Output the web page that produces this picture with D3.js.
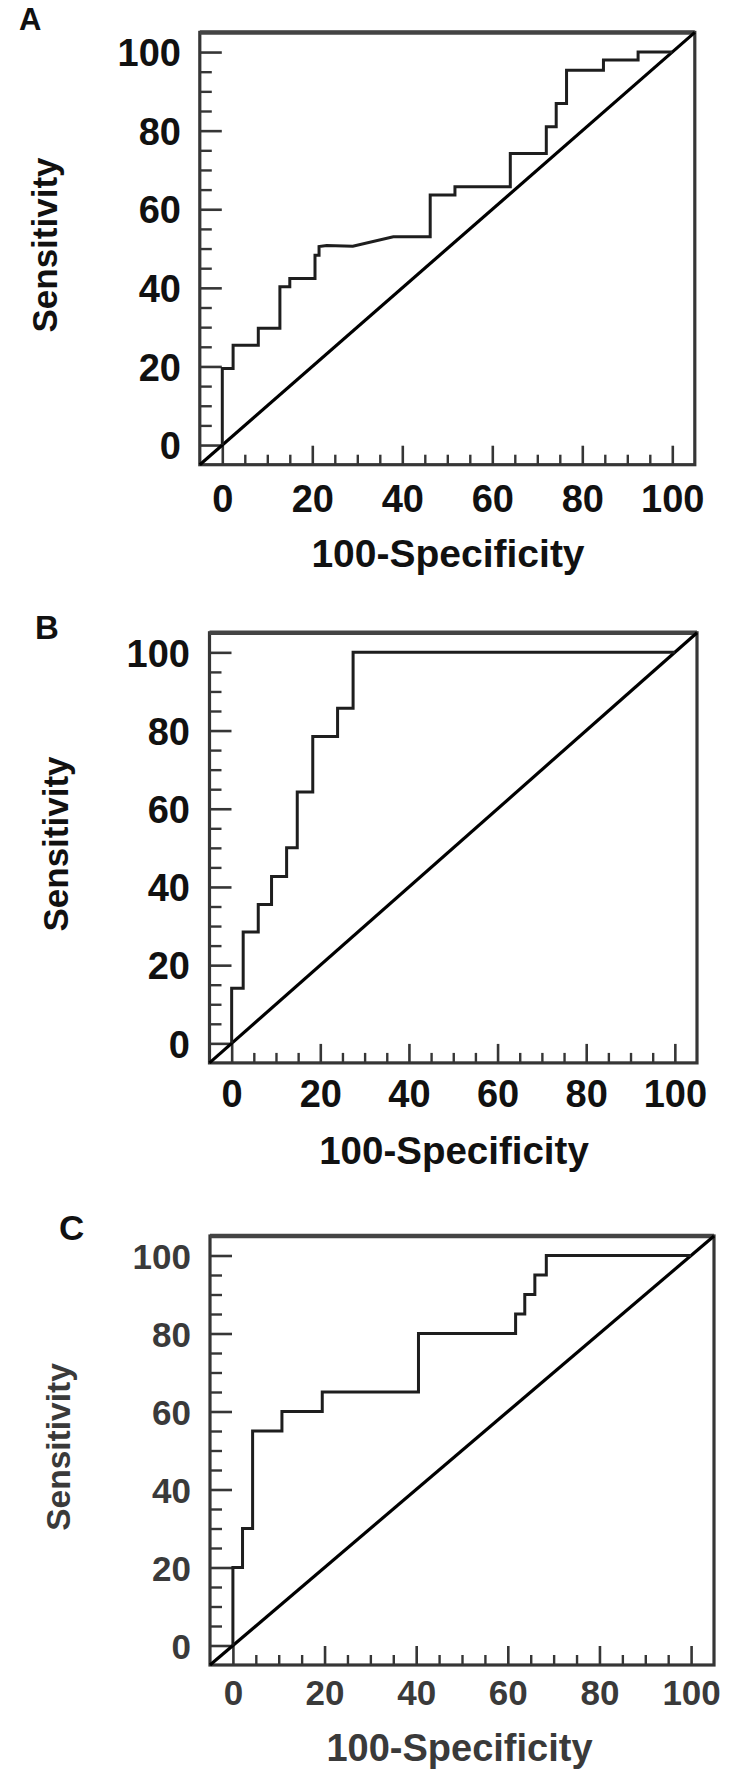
<!DOCTYPE html>
<html><head><meta charset="utf-8">
<script src="https://cdn.jsdelivr.net/npm/d3@7/dist/d3.min.js"></script>
<style>body{margin:0;background:#fff}svg{display:block}</style>
</head><body>
<script>
// ---------- data ----------
const axisDomain = [-5, 105];
const majorTicks = [0, 20, 40, 60, 80, 100];
const minorTicks = [5, 10, 15, 25, 30, 35, 45, 50, 55, 65, 70, 75, 85, 90, 95];
const diagonal = [-5, 105];
const panelLabels = ["A", "B", "C"];
const xTitle = "100-Specificity";
const yTitle = "Sensitivity";

const rocA_fpr  = [0, 0, 2.4, 2.4, 8, 8, 12.8, 12.8, 15, 15, 20.6, 20.6, 21.5, 21.5, 23.2, 29, 38, 46.2, 46.2, 51.7, 51.7, 64, 64, 72, 72, 74.2, 74.2, 76.5, 76.5, 84.7, 84.7, 92.4, 92.4, 100];
const rocA_sens = [0, 19.5, 19.5, 25.4, 25.4, 29.7, 29.7, 40.3, 40.3, 42.4, 42.4, 48.3, 48.3, 50.5, 50.8, 50.6, 53, 53, 63.6, 63.6, 65.7, 65.7, 74.2, 74.2, 81, 81, 86.9, 86.9, 95.4, 95.4, 98, 98, 100, 100];

const rocB_fpr  = [0, 0, 2.6, 2.6, 6, 6, 9, 9, 12.4, 12.4, 14.8, 14.8, 18.3, 18.3, 23.9, 23.9, 27.4, 27.4, 100];
const rocB_sens = [0, 14.1, 14.1, 28.5, 28.5, 35.5, 35.5, 42.7, 42.7, 50, 50, 64.3, 64.3, 78.5, 78.5, 85.7, 85.7, 100, 100];

const rocC_fpr  = [0, 0, 2.1, 2.1, 4.3, 4.3, 10.7, 10.7, 19.5, 19.5, 40.5, 40.5, 61.7, 61.7, 63.7, 63.7, 65.9, 65.9, 68.4, 68.4, 100];
const rocC_sens = [0, 20, 20, 30, 30, 55, 55, 60, 60, 65, 65, 80, 80, 85, 85, 90, 90, 95, 95, 100, 100];

const rocFpr  = [rocA_fpr, rocB_fpr, rocC_fpr];
const rocSens = [rocA_sens, rocB_sens, rocC_sens];

// ---------- layout ----------
const layouts = [
  {left:199.8, right:694.8, bottom:464.7, top:32.4, color:"#111",
   letterX:19, letterY:30, letterSize:31,
   tickSize:38, yTickRight:181, xTickBase:512,
   xTitleSize:39, xTitleBase:567, xTitleCx:448,
   yTitleSize:35, yTitleBaseX:57, yTitleCy:245},
  {left:209.5, right:697, bottom:1062.9, top:632.8, color:"#111",
   letterX:35, letterY:639, letterSize:33,
   tickSize:38, yTickRight:190, xTickBase:1107,
   xTitleSize:38.5, xTitleBase:1164, xTitleCx:454,
   yTitleSize:35, yTitleBaseX:68, yTitleCy:844},
  {left:210, right:714, bottom:1665, top:1236, color:"#3a3a3a",
   letterX:59, letterY:1240, letterSize:35,
   tickSize:35, yTickRight:191, xTickBase:1705,
   xTitleSize:38, xTitleBase:1761, xTitleCx:459.5,
   yTitleSize:33.5, yTitleBaseX:70, yTitleCy:1447}
];

const FONT = "'Liberation Sans', Arial, Helvetica, sans-serif";
const frameColor = "#363636";

const svg = d3.select("body").append("svg").attr("width", 735).attr("height", 1780);

layouts.forEach((L, p) => {
  const x = d3.scaleLinear().domain(axisDomain).range([L.left, L.right]);
  const y = d3.scaleLinear().domain(axisDomain).range([L.bottom, L.top]);
  const g = svg.append("g");
  const x0 = x(axisDomain[0]), x1 = x(axisDomain[1]);
  const y0 = y(axisDomain[0]), y1 = y(axisDomain[1]);

  const styleAxis = (a, w) => {
    a.select(".domain").remove();
    a.attr("font-family", FONT).attr("font-weight", "bold");
    a.selectAll("line").attr("stroke", frameColor).attr("stroke-width", w);
  };
  g.append("g").attr("transform", `translate(0,${y0})`)
    .call(d3.axisBottom(x).tickValues(minorTicks).tickSize(-10).tickFormat(""))
    .call(a => styleAxis(a, 2.4));
  g.append("g").attr("transform", `translate(0,${y0})`)
    .call(d3.axisBottom(x).tickValues(majorTicks).tickSize(-19).tickPadding(0))
    .call(a => styleAxis(a, 2.6))
    .call(a => a.attr("font-size", L.tickSize))
    .call(a => a.selectAll("text").attr("y", L.xTickBase - y0).attr("dy", 0).attr("fill", L.color));
  g.append("g").attr("transform", `translate(${x0},0)`)
    .call(d3.axisLeft(y).tickValues(minorTicks).tickSize(-12).tickFormat(""))
    .call(a => styleAxis(a, 2.4));
  g.append("g").attr("transform", `translate(${x0},0)`)
    .call(d3.axisLeft(y).tickValues(majorTicks).tickSize(-22).tickPadding(0))
    .call(a => styleAxis(a, 2.6))
    .call(a => a.attr("font-size", L.tickSize))
    .call(a => a.selectAll("text").attr("x", L.yTickRight - x0).attr("dy", "0.36em").attr("fill", L.color));

  // frame
  g.append("rect").attr("x", x0).attr("y", y1).attr("width", x1 - x0).attr("height", y0 - y1)
    .attr("fill", "none").attr("stroke", frameColor).attr("stroke-width", 3.2);
  g.append("line").attr("x1", x0).attr("x2", x1).attr("y1", y1).attr("y2", y1)
    .attr("stroke", "#444").attr("stroke-width", 4.5);

  // diagonal reference line
  g.append("line")
    .attr("x1", x(diagonal[0])).attr("y1", y(diagonal[0]))
    .attr("x2", x(diagonal[1])).attr("y2", y(diagonal[1]))
    .attr("stroke", "#000").attr("stroke-width", 3.2);

  // ROC curve
  const pts = d3.zip(rocFpr[p], rocSens[p]);
  g.append("path").datum(pts)
    .attr("d", d3.line().x(d => x(d[0])).y(d => y(d[1])))
    .attr("fill", "none").attr("stroke", "#1e1e1e").attr("stroke-width", 3)
    .attr("stroke-linejoin", "miter");

  // texts
  g.append("text").text(panelLabels[p])
    .attr("x", L.letterX).attr("y", L.letterY)
    .attr("font-family", FONT).attr("font-weight", "bold").attr("font-size", L.letterSize)
    .attr("fill", "#111");
  g.append("text").text(xTitle)
    .attr("x", L.xTitleCx).attr("y", L.xTitleBase).attr("text-anchor", "middle")
    .attr("font-family", FONT).attr("font-weight", "bold").attr("font-size", L.xTitleSize)
    .attr("fill", L.color);
  g.append("text").text(yTitle)
    .attr("transform", `translate(${L.yTitleBaseX},${L.yTitleCy}) rotate(-90)`)
    .attr("text-anchor", "middle")
    .attr("font-family", FONT).attr("font-weight", "bold").attr("font-size", L.yTitleSize)
    .attr("fill", L.color);
});
</script>
</body></html>
